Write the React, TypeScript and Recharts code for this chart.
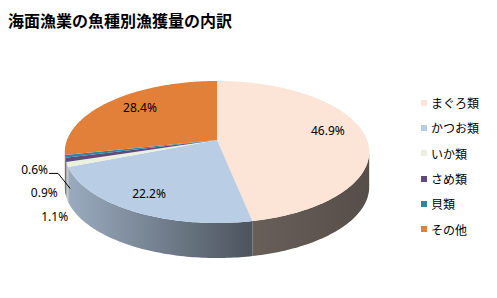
import React from 'react';
import { PieChart, Pie, Cell, Legend } from 'recharts';

const SPECIES = ['まぐろ類', 'かつお類', 'いか類', 'さめ類', '貝類', 'その他'];
const SHARES = [46.9, 22.2, 1.1, 0.9, 0.6, 28.4];

const COLORS = ['#FCE4D6', '#B9CDE5', '#EBF1DE', '#604A7B', '#31859C', '#E2803A'];

const data = SPECIES.map((name, i) => ({ name, value: SHARES[i] }));

// fake 3D: ellipse radii, perspective factor and wall depth
const RX = 150;
const RY = 69;
const PERSP = 0.169;
const DEPTH = 35;
const RAD = Math.PI / 180;
const LABEL_FONT = '"Noto Sans", "DejaVu Sans", sans-serif';
const JP_FONT = '"Noto Sans CJK JP", sans-serif';

const project = (cx: number, cy: number, deg: number, r = 1): [number, number] => {
  const u = r * Math.cos(deg * RAD);
  const v = r * Math.sin(deg * RAD);
  const w = 1 + PERSP * v;
  return [cx + (RX * u) / w, cy - (RY * v) / w];
};

const shade = (hex: string, f: number) => {
  const n = parseInt(hex.slice(1), 16);
  const c = [(n >> 16) & 255, (n >> 8) & 255, n & 255].map((x) => Math.round(x * f));
  return `rgb(${c.join(',')})`;
};

const arcPoints = (cx: number, cy: number, from: number, to: number, dy = 0) => {
  const steps = Math.max(2, Math.ceil(Math.abs(from - to)));
  const pts: string[] = [];
  for (let i = 0; i <= steps; i++) {
    const a = from + ((to - from) * i) / steps;
    const [x, y] = project(cx, cy, a);
    pts.push(`${x.toFixed(2)},${(y + dy).toFixed(2)}`);
  }
  return pts;
};

const Slice3D = (props: any) => {
  const { cx, cy, startAngle, endAngle, fill } = props;
  const hi = Math.max(startAngle, endAngle);
  const lo = Math.min(startAngle, endAngle);
  // front wall is visible between the two silhouette points
  const visHi = -Math.asin(PERSP) / RAD;
  const visLo = -180 - visHi;
  const a = Math.max(lo, visLo);
  const b = Math.min(hi, visHi);
  const gid = `side-${fill.slice(1)}`;
  const top = arcPoints(cx, cy, hi, lo);
  let side = null;
  if (b > a) {
    const upper = arcPoints(cx, cy, b, a);
    const lower = arcPoints(cx, cy, a, b, DEPTH);
    side = (
      <path d={`M${upper.join(' L')} L${lower.join(' L')} Z`} fill={`url(#${gid})`} />
    );
  }
  return (
    <g>
      <defs>
        <linearGradient id={gid} gradientUnits="userSpaceOnUse" x1={cx - RX} y1={0} x2={cx + RX} y2={0}>
          <stop offset="0" stopColor={shade(fill, 0.84)} />
          <stop offset="0.6" stopColor={shade(fill, 0.42)} />
          <stop offset="1" stopColor={shade(fill, 0.34)} />
        </linearGradient>
      </defs>
      {side}
      <path d={`M${cx},${cy} L${top.join(' L')} Z`} fill={fill} />
    </g>
  );
};

const renderLabel = (props: any) => {
  const { cx, cy, midAngle, value, index } = props;
  const text = `${value.toFixed(1)}%`;
  if (value >= 2) {
    // front labels sit a bit further out, like Excel's 3D best fit
    const r = 0.76 - 0.08 * Math.sin(midAngle * RAD);
    const [x, y] = project(cx, cy, midAngle, r);
    return (
      <text x={x} y={y - 4} textAnchor="middle" dominantBaseline="central" fontSize={12} fontFamily={LABEL_FONT} fill="#000">
        {text}
      </text>
    );
  }
  // small slices are stacked outside on the left
  const j = SHARES.slice(0, index).filter((v) => v < 2).length;
  const [rx, ry] = project(cx, cy, midAngle);
  const x = rx + 1 - 9 * j;
  const y = ry + 52 - 19.5 * j;
  return (
    <g>
      {j === 2 && (
        <path d={`M${x + 1},${y + 4} H${x + 10} L${rx + 5},${ry + 32}`} stroke="#000" strokeWidth={1} fill="none" />
      )}
      <text x={x} y={y} textAnchor="end" dominantBaseline="central" fontSize={12} fontFamily={LABEL_FONT} fill="#000">
        {text}
      </text>
    </g>
  );
};

const LegendList = ({ payload }: any) => {
  const items = [...(payload || [])].sort(
    (p: any, q: any) => SPECIES.indexOf(p.value) - SPECIES.indexOf(q.value)
  );
  return (
    <div>
      {items.map((entry: any) => (
        <div key={entry.value} style={{ display: 'flex', alignItems: 'center', height: 25.3 }}>
          <span style={{ width: 6, height: 6, background: entry.color, marginRight: 4 }} />
          <span style={{ fontSize: 12, fontFamily: JP_FONT, color: '#000' }}>{entry.value}</span>
        </div>
      ))}
    </div>
  );
};

export default function App() {
  return (
    <div style={{ position: 'absolute', left: 0, top: 0, width: 497, height: 298, background: '#fff' }}>
      <div
        style={{
          position: 'absolute',
          left: 8,
          top: 10,
          lineHeight: '20px',
          fontSize: 16,
          fontWeight: 'bold',
          fontFamily: JP_FONT,
          color: '#000',
        }}
      >
        海面漁業の魚種別漁獲量の内訳
      </div>
      <PieChart width={497} height={298} style={{ position: 'absolute', left: 0, top: 0 }}>
        <Pie
          data={data}
          dataKey="value"
          nameKey="name"
          cx={212}
          cy={135}
          outerRadius={RX}
          startAngle={90}
          endAngle={-270}
          stroke="none"
          shape={Slice3D}
          label={renderLabel}
          labelLine={false}
          isAnimationActive={false}
        >
          {data.map((d, i) => (
            <Cell key={d.name} fill={COLORS[i]} />
          ))}
        </Pie>
        <Legend
          layout="vertical"
          content={<LegendList />}
          wrapperStyle={{ left: 421, top: 90, width: 76 }}
        />
      </PieChart>
    </div>
  );
}
